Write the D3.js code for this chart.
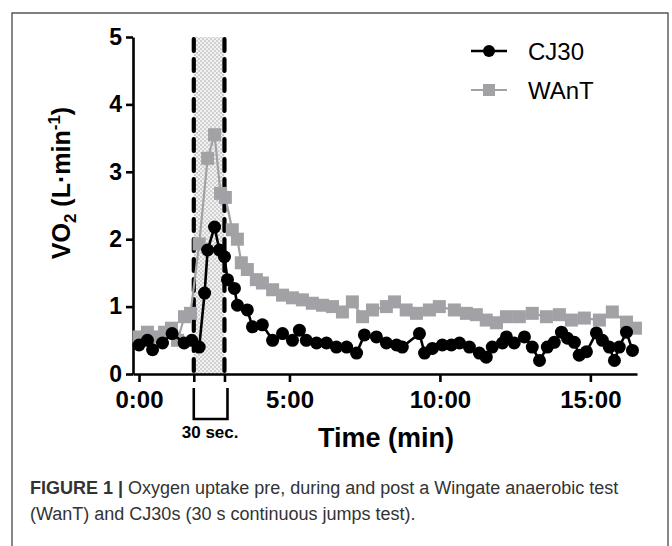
<!DOCTYPE html>
<html>
<head>
<meta charset="utf-8">
<script src="https://cdn.jsdelivr.net/npm/d3@7"></script>
<style>
  body { margin: 0; background: #fff; }
  text { font-family: Arial, "Liberation Sans", Helvetica, sans-serif; }
</style>
</head>
<body>
<div id="chart"></div>
<script>
// time in minutes, VO2 in L/min
var cjTime = [0, 0.28, 0.45, 0.78, 1.1, 1.5, 1.75, 2.0, 2.18, 2.28, 2.51, 2.67, 2.84, 2.94, 3.17, 3.27, 3.6, 3.77, 4.1, 4.44, 4.77, 5.1, 5.33, 5.56, 5.9, 6.23, 6.56, 6.9, 7.23, 7.49, 7.89, 8.22, 8.56, 8.75, 9.32, 9.49, 9.75, 10.08, 10.38, 10.65, 10.98, 11.31, 11.54, 11.74, 12.08, 12.21, 12.47, 12.81, 13.07, 13.31, 13.57, 13.8, 14.04, 14.24, 14.47, 14.63, 14.87, 15.2, 15.4, 15.63, 15.8, 15.96, 16.2, 16.4];
var cjVO2  = [0.43, 0.5, 0.36, 0.46, 0.6, 0.46, 0.5, 0.4, 1.2, 1.84, 2.18, 1.84, 1.74, 1.4, 1.27, 1.02, 0.95, 0.7, 0.73, 0.5, 0.6, 0.5, 0.65, 0.5, 0.46, 0.46, 0.4, 0.4, 0.31, 0.58, 0.55, 0.46, 0.43, 0.4, 0.6, 0.31, 0.38, 0.43, 0.43, 0.46, 0.4, 0.31, 0.25, 0.4, 0.46, 0.55, 0.46, 0.55, 0.4, 0.2, 0.4, 0.47, 0.62, 0.53, 0.47, 0.28, 0.33, 0.61, 0.5, 0.4, 0.2, 0.4, 0.62, 0.35];

var wantTime = [0, 0.28, 0.58, 0.85, 1.08, 1.28, 1.51, 1.71, 2.0, 2.28, 2.51, 2.71, 2.87, 3.1, 3.27, 3.4, 3.6, 3.9, 4.1, 4.44, 4.77, 5.1, 5.43, 5.76, 6.1, 6.43, 6.76, 7.09, 7.43, 7.76, 8.22, 8.49, 8.88, 9.22, 9.65, 9.98, 10.48, 10.88, 11.21, 11.54, 11.88, 12.21, 12.64, 13.07, 13.54, 13.97, 14.37, 14.8, 15.3, 15.73, 16.2, 16.5];
var wantVO2  = [0.55, 0.62, 0.55, 0.62, 0.68, 0.5, 0.85, 0.9, 1.93, 3.2, 3.55, 2.68, 2.62, 2.14, 2.0, 1.65, 1.55, 1.4, 1.35, 1.25, 1.17, 1.13, 1.1, 1.05, 1.02, 1.0, 0.92, 1.07, 0.85, 0.95, 1.0, 1.07, 0.95, 0.9, 0.95, 1.0, 0.95, 0.9, 0.88, 0.8, 0.76, 0.85, 0.85, 0.9, 0.85, 0.88, 0.8, 0.83, 0.8, 0.92, 0.77, 0.68];

var testWindow = [1.82, 2.84];
var xTicks = [0, 5, 10, 15];
var yTicks = [0, 1, 2, 3, 4, 5];
var seriesNames = ["CJ30", "WAnT"];

var W = 672, H = 546;
var svg = d3.select("#chart").append("svg")
    .attr("width", W).attr("height", H);

// frame of the figure panel
svg.append("path")
    .attr("d", "M12,560V13H668V560")
    .attr("fill", "none")
    .attr("stroke", "#555")
    .attr("stroke-width", 1.4);

var x = d3.scaleLinear().domain([-0.2, 16.55]).range([133, 637]);
var y = d3.scaleLinear().domain([0, 5]).range([374, 37]);

// checker pattern for the exercise window
var defs = svg.append("defs");
var pat = defs.append("pattern")
    .attr("id", "checker")
    .attr("patternUnits", "userSpaceOnUse")
    .attr("width", 4).attr("height", 4);
pat.append("rect").attr("width", 4).attr("height", 4).attr("fill", "#f2f2f2");
pat.append("rect").attr("width", 2).attr("height", 2).attr("fill", "#d0d0d0");
pat.append("rect").attr("x", 2).attr("y", 2).attr("width", 2).attr("height", 2).attr("fill", "#d0d0d0");

svg.append("rect")
    .attr("x", x(testWindow[0]))
    .attr("y", y(5))
    .attr("width", x(testWindow[1]) - x(testWindow[0]))
    .attr("height", y(0) - y(5))
    .attr("fill", "url(#checker)");

// axes
var xAxis = svg.append("g")
    .attr("transform", "translate(0," + y(0) + ")")
    .call(d3.axisBottom(x)
        .tickValues(xTicks.concat(testWindow))
        .tickFormat(function(d) { return xTicks.indexOf(d) >= 0 ? d + ":00" : ""; })
        .tickSize(8).tickSizeOuter(0).tickPadding(9));

var yAxis = svg.append("g")
    .attr("transform", "translate(" + x(-0.2) + ",0)")
    .call(d3.axisLeft(y).tickValues(yTicks).tickFormat(d3.format("d"))
        .tickSize(7).tickSizeOuter(0).tickPadding(4));

[xAxis, yAxis].forEach(function(g) {
  g.select(".domain").attr("stroke", "#000").attr("stroke-width", 2.6);
  g.selectAll(".tick line").attr("stroke", "#000").attr("stroke-width", 2.6);
  g.selectAll(".tick text")
    .attr("fill", "#000")
    .style("font-family", "Arial, 'Liberation Sans', sans-serif")
    .style("font-weight", "bold")
    .style("font-size", "23px");
});
xAxis.selectAll(".tick text").style("font-size", "24px");

// dashed lines marking the test
svg.selectAll(".testline")
  .data(testWindow)
  .enter().append("line")
    .attr("class", "testline")
    .attr("x1", function(d) { return x(d); })
    .attr("x2", function(d) { return x(d); })
    .attr("y1", y(5) + 2)
    .attr("y2", y(0))
    .attr("stroke", "#000")
    .attr("stroke-width", 4.2)
    .attr("stroke-dasharray", "12,8")
    .attr("stroke-linecap", "round");

// series
var wantData = wantTime.map(function(t, i) { return {t: t, v: wantVO2[i]}; });
var cjData = cjTime.map(function(t, i) { return {t: t, v: cjVO2[i]}; });

var line = d3.line()
    .x(function(d) { return x(d.t); })
    .y(function(d) { return y(d.v); });

var grey = "#a2a2a6";

svg.append("path")
    .datum(wantData)
    .attr("d", line)
    .attr("fill", "none")
    .attr("stroke", grey)
    .attr("stroke-width", 2.2);

svg.selectAll(".sq")
  .data(wantData)
  .enter().append("rect")
    .attr("class", "sq")
    .attr("x", function(d) { return x(d.t) - 6.5; })
    .attr("y", function(d) { return y(d.v) - 6.5; })
    .attr("width", 13).attr("height", 13)
    .attr("fill", grey);

svg.append("path")
    .datum(cjData)
    .attr("d", line)
    .attr("fill", "none")
    .attr("stroke", "#000")
    .attr("stroke-width", 2.6);

svg.selectAll(".dot")
  .data(cjData)
  .enter().append("circle")
    .attr("class", "dot")
    .attr("cx", function(d) { return x(d.t); })
    .attr("cy", function(d) { return y(d.v); })
    .attr("r", 6.5)
    .attr("fill", "#000");

// bracket for 30 sec
svg.append("path")
    .attr("d", "M" + x(testWindow[0]) + ",388V419H" + (x(testWindow[1]) + 3) + "V388")
    .attr("fill", "none")
    .attr("stroke", "#000")
    .attr("stroke-width", 2.6);

svg.append("text")
    .attr("x", (x(testWindow[0]) + x(testWindow[1])) / 2 + 1)
    .attr("y", 438)
    .attr("text-anchor", "middle")
    .style("font-weight", "bold")
    .style("font-size", "17px")
    .text("30 sec.");

// axis titles
svg.append("text")
    .attr("x", 386)
    .attr("y", 447)
    .attr("text-anchor", "middle")
    .style("font-weight", "bold")
    .style("font-size", "27px")
    .text("Time (min)");

var yl = svg.append("text")
    .attr("transform", "translate(70,183) rotate(-90)")
    .attr("text-anchor", "middle")
    .style("font-weight", "bold")
    .style("font-size", "25px");
yl.append("tspan").text("VO");
yl.append("tspan").attr("dy", 6).style("font-size", "17px").text("2");
yl.append("tspan").attr("dy", -6).text(" (L·min");
yl.append("tspan").attr("dy", -10).style("font-size", "17px").text("-1");
yl.append("tspan").attr("dy", 10).text(")");

// legend
var legend = svg.append("g");
var legY = [51, 90];
seriesNames.forEach(function(name, i) {
  var col = i === 0 ? "#000" : grey;
  legend.append("line")
    .attr("x1", 471).attr("x2", 507)
    .attr("y1", legY[i]).attr("y2", legY[i])
    .attr("stroke", col).attr("stroke-width", i === 0 ? 2.6 : 2.2);
  if (i === 0) {
    legend.append("circle").attr("cx", 489).attr("cy", legY[i]).attr("r", 6).attr("fill", col);
  } else {
    legend.append("rect").attr("x", 483).attr("y", legY[i] - 6)
      .attr("width", 12).attr("height", 12).attr("fill", col);
  }
  legend.append("text")
    .attr("x", 528).attr("y", legY[i] + 8.5)
    .style("font-size", "24px")
    .text(name);
});

// caption
var cap1 = svg.append("text").attr("x", 30).attr("y", 494)
    .style("font-size", "18px").attr("fill", "#333");
cap1.append("tspan").style("font-weight", "bold").text("FIGURE 1 | ");
cap1.append("tspan").text("Oxygen uptake pre, during and post a Wingate anaerobic test");
svg.append("text").attr("x", 30).attr("y", 520)
    .style("font-size", "18px").attr("fill", "#333")
    .text("(WanT) and CJ30s (30 s continuous jumps test).");
</script>
</body>
</html>
